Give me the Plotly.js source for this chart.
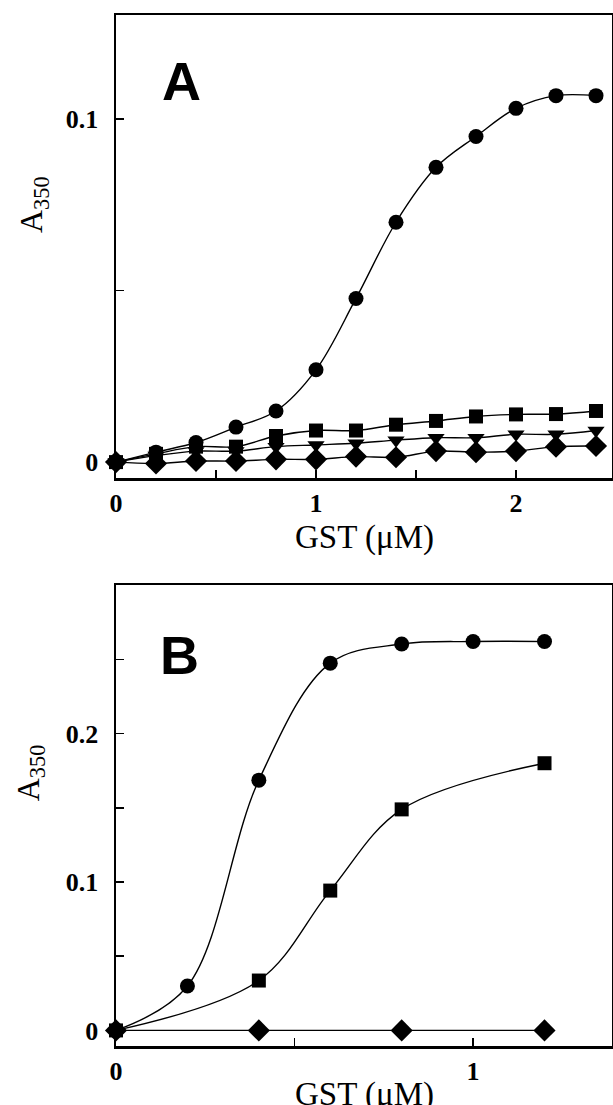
<!DOCTYPE html>
<html>
<head>
<meta charset="utf-8">
<script src="https://cdn.plot.ly/plotly-3.0.1.min.js"></script>
<style>html,body{margin:0;padding:0;background:#fff;}#chart{width:613px;height:1105px;}</style>
</head>
<body>
<div id="chart"></div>
<script>
// Panel A data
const xA = [0, 0.2, 0.4, 0.6, 0.8, 1.0, 1.2, 1.4, 1.6, 1.8, 2.0, 2.2, 2.4];
const aCircle   = [0, 0.0029, 0.0057, 0.0102, 0.0149, 0.0269, 0.0477, 0.0699, 0.0859, 0.0949, 0.1031, 0.1068, 0.1068];
const aSquare   = [0, 0.0024, 0.0045, 0.0045, 0.0076, 0.0092, 0.0092, 0.0109, 0.0120, 0.0133, 0.0139, 0.0140, 0.0149];
const aTriangle = [0, 0.0019, 0.0032, 0.0032, 0.0045, 0.0050, 0.0055, 0.0064, 0.0071, 0.0071, 0.0081, 0.0081, 0.0092];
const aDiamond  = [0, -0.0004, 0.0003, 0.0003, 0.0008, 0.0008, 0.0016, 0.0014, 0.0032, 0.0029, 0.0032, 0.0045, 0.0047];

// Panel B data
const xBCircle = [0, 0.2, 0.4, 0.6, 0.8, 1.0, 1.2];
const bCircle  = [0, 0.0299, 0.1686, 0.2474, 0.2603, 0.2620, 0.2620];
const xBSquare = [0, 0.4, 0.6, 0.8, 1.2];
const bSquare  = [0, 0.0336, 0.0942, 0.1489, 0.1800];
const xBDiamond = [0, 0.4, 0.8, 1.2];
const bDiamond  = [0, 0, 0, 0];

// Tick labels
const aXTickVals = [0, 0.5, 1, 1.5, 2];
const aXTickText = ['0', '', '1', '', '2'];
const aYTickVals = [0, 0.05, 0.1];
const aYTickText = ['0', '', '0.1'];
const bXTickVals = [0, 0.5, 1];
const bXTickText = ['0', '', '1'];
const bYTickVals = [0, 0.05, 0.1, 0.15, 0.2, 0.25];
const bYTickText = ['0', '', '0.1', '', '0.2', ''];

const xTitle = 'GST (μM)';
const yTitle = 'A<sub>350</sub>';

const markerSize = {'circle': 15, 'square': 14, 'diamond': 17, 'triangle-down': 15};

function tr(x, y, sym, xa, ya) {
  return {
    x: x, y: y, xaxis: xa, yaxis: ya, type: 'scatter', mode: 'lines+markers',
    line: {color: '#000', width: 1.4, shape: 'spline', smoothing: 1},
    marker: {symbol: sym, size: markerSize[sym], color: '#000'},
    showlegend: false, cliponaxis: false
  };
}

const data = [
  tr(xA, aDiamond, 'diamond', 'x', 'y'),
  tr(xA, aTriangle, 'triangle-down', 'x', 'y'),
  tr(xA, aSquare, 'square', 'x', 'y'),
  tr(xA, aCircle, 'circle', 'x', 'y'),
  tr(xBDiamond, bDiamond, 'diamond', 'x2', 'y2'),
  tr(xBSquare, bSquare, 'square', 'x2', 'y2'),
  tr(xBCircle, bCircle, 'circle', 'x2', 'y2')
];

const tickFont = {family: 'Liberation Serif, Times New Roman, serif', size: 26, color: '#000', weight: 'bold'};
const axBase = {
  showgrid: false, zeroline: false, showline: true, mirror: true,
  linecolor: '#000', linewidth: 2.5,
  ticks: 'inside', ticklen: 8, tickwidth: 1.5, tickcolor: '#000',
  tickmode: 'array', tickfont: tickFont, fixedrange: true
};

const titleFont = {family: 'Liberation Serif, Times New Roman, serif', size: 33, color: '#000'};
const yTitleFont = {family: 'Liberation Serif, Times New Roman, serif', size: 32, color: '#000'};
const letterFont = {family: 'Liberation Sans, Arial, sans-serif', size: 54, color: '#000', weight: 'bold'};

const layout = {
  width: 613, height: 1105,
  margin: {l: 116, r: 1, t: 15, b: 59},
  paper_bgcolor: '#fff', plot_bgcolor: '#fff',
  xaxis: Object.assign({}, axBase, {anchor: 'y', domain: [0, 1], range: [0, 2.48],
    tickvals: aXTickVals, ticktext: aXTickText, ticklabelstandoff: 0}),
  yaxis: Object.assign({}, axBase, {anchor: 'x', domain: [0.5507, 1], range: [-0.0047, 0.1303],
    tickvals: aYTickVals, ticktext: aYTickText, ticklabelstandoff: 10}),
  xaxis2: Object.assign({}, axBase, {anchor: 'y2', domain: [0, 1], range: [0, 1.389],
    tickvals: bXTickVals, ticktext: bXTickText, ticklabelstandoff: 0}),
  yaxis2: Object.assign({}, axBase, {anchor: 'x2', domain: [0, 0.4469], range: [-0.0105, 0.2999],
    tickvals: bYTickVals, ticktext: bYTickText, ticklabelstandoff: 10}),
  annotations: [
    {text: 'A', xref: 'paper', yref: 'paper', x: (181 - 116) / 496, y: (1045.6 - 81) / 1030.6, showarrow: false, font: letterFont, xanchor: 'center', yanchor: 'middle'},
    {text: 'B', xref: 'paper', yref: 'paper', x: (179 - 116) / 496, y: (1045.6 - 655) / 1030.6, showarrow: false, font: letterFont, xanchor: 'center', yanchor: 'middle'},
    {text: yTitle, xref: 'paper', yref: 'paper', x: (33 - 116) / 496, y: (1045.6 - 205) / 1030.6, textangle: -90, showarrow: false, font: yTitleFont, xanchor: 'center', yanchor: 'middle'},
    {text: yTitle, xref: 'paper', yref: 'paper', x: (30 - 116) / 496, y: (1045.6 - 773) / 1030.6, textangle: -90, showarrow: false, font: yTitleFont, xanchor: 'center', yanchor: 'middle'},
    {text: xTitle, xref: 'paper', yref: 'paper', x: 0.5, y: (1045.6 - 537) / 1030.6, showarrow: false, font: titleFont, xanchor: 'center', yanchor: 'middle'},
    {text: xTitle, xref: 'paper', yref: 'paper', x: 0.5, y: (1045.6 - 1094) / 1030.6, showarrow: false, font: titleFont, xanchor: 'center', yanchor: 'middle'}
  ]
};

Plotly.newPlot('chart', data, layout, {displayModeBar: false, staticPlot: true});
</script>
</body>
</html>
